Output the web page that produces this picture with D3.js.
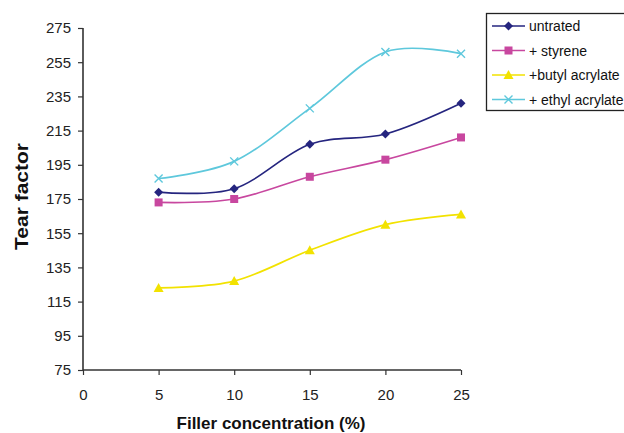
<!DOCTYPE html>
<html>
<head>
<meta charset="utf-8">
<script src="https://cdn.jsdelivr.net/npm/d3@7/dist/d3.min.js"></script>
<style>
  html, body { margin: 0; padding: 0; background: #fff; }
  svg { display: block; font-family: Arial, "Liberation Sans", sans-serif; }
</style>
</head>
<body>
<svg id="chart" width="624" height="433"></svg>
<script>
// Filler concentration (%) on x, tear factor on y
const concentrations = [5, 10, 15, 20, 25];
const untrated       = [179, 181, 207, 213, 231];
const styrene        = [173, 175, 188, 198, 211];
const butylAcrylate  = [123, 127, 145, 160, 166];
const ethylAcrylate  = [187, 197, 228, 261, 260];

const seriesNames  = ["untrated", "+ styrene", "+butyl acrylate", "+ ethyl acrylate"];
const seriesValues = [untrated, styrene, butylAcrylate, ethylAcrylate];
const seriesColors = ["#25257f", "#c8479f", "#f2e200", "#5ec8dc"];
const seriesSymbols = ["diamond", "square", "triangle", "cross"];

const xTicks = [0, 5, 10, 15, 20, 25];
const yTicks = [75, 95, 115, 135, 155, 175, 195, 215, 235, 255, 275];

const svg = d3.select("#chart");

const x = d3.scaleLinear().domain([0, 25]).range([83, 461]);
const y = d3.scaleLinear().domain([75, 275]).range([370, 28]);

// axes
const axisColor = "#333";
const xAxis = svg.append("g")
  .attr("transform", `translate(0,${y(75)})`)
  .call(d3.axisBottom(x).tickValues(xTicks).tickSize(5).tickPadding(14).tickFormat(d3.format("d")));
const yAxis = svg.append("g")
  .attr("transform", `translate(${x(0)},0)`)
  .call(d3.axisLeft(y).tickValues(yTicks).tickSize(5).tickPadding(7).tickFormat(d3.format("d")));

[xAxis, yAxis].forEach(g => {
  g.select(".domain").attr("stroke", axisColor).attr("stroke-width", 1.6);
  g.selectAll(".tick line").attr("stroke", axisColor).attr("stroke-width", 1.2);
  g.selectAll(".tick text").attr("fill", "#222").style("font-size", "15px")
    .style("font-family", "Arial, 'Liberation Sans', sans-serif");
});
// domain paths without outer tick caps
xAxis.select(".domain").attr("d", `M${x(0)},0H${x(25)}`);
yAxis.select(".domain").attr("d", `M0,${y(75)}V${y(275)}`);

// axis titles
svg.append("text")
  .attr("x", 271).attr("y", 429)
  .attr("text-anchor", "middle")
  .style("font-size", "17px").style("font-weight", "bold").attr("fill", "#111")
  .text("Filler concentration (%)");
svg.append("text")
  .attr("transform", `translate(28,196.5) rotate(-90)`)
  .attr("text-anchor", "middle")
  .attr("textLength", 107).attr("lengthAdjust", "spacingAndGlyphs")
  .style("font-size", "19px").style("font-weight", "bold").attr("fill", "#111")
  .text("Tear factor");

// markers
function drawMarker(g, type, color, cx, cy) {
  if (type === "diamond") {
    g.append("path").attr("d", `M${cx},${cy - 4.5}L${cx + 4.5},${cy}L${cx},${cy + 4.5}L${cx - 4.5},${cy}Z`)
      .attr("fill", color);
  } else if (type === "square") {
    g.append("rect").attr("x", cx - 4).attr("y", cy - 4).attr("width", 8).attr("height", 8)
      .attr("fill", color);
  } else if (type === "triangle") {
    g.append("path").attr("d", `M${cx},${cy - 5}L${cx + 5},${cy + 4}L${cx - 5},${cy + 4}Z`)
      .attr("fill", color);
  } else {
    g.append("path").attr("d", `M${cx - 4},${cy - 4}L${cx + 4},${cy + 4}M${cx - 4},${cy + 4}L${cx + 4},${cy - 4}`)
      .attr("stroke", color).attr("stroke-width", 1.4).attr("fill", "none");
  }
}

const line = d3.line()
  .x((d, i) => x(concentrations[i]))
  .y(d => y(d))
  .curve(d3.curveCatmullRom.alpha(0));

seriesValues.forEach((vals, s) => {
  const g = svg.append("g");
  g.append("path").datum(vals)
    .attr("d", line)
    .attr("fill", "none")
    .attr("stroke", seriesColors[s])
    .attr("stroke-width", 1.7);
  vals.forEach((v, i) => drawMarker(g, seriesSymbols[s], seriesColors[s], x(concentrations[i]), y(v)));
});

// legend
const legend = svg.append("g");
legend.append("rect")
  .attr("x", 486.5).attr("y", 13.5).attr("width", 145).attr("height", 97)
  .attr("fill", "#fff").attr("stroke", "#222").attr("stroke-width", 1.3);
seriesNames.forEach((name, s) => {
  const ly = 26 + s * 24.5;
  legend.append("line").attr("x1", 492).attr("x2", 525).attr("y1", ly).attr("y2", ly)
    .attr("stroke", seriesColors[s]).attr("stroke-width", 1.7);
  drawMarker(legend, seriesSymbols[s], seriesColors[s], 508.5, ly);
  legend.append("text").attr("x", 529).attr("y", ly + 5)
    .style("font-size", "14px").attr("fill", "#111")
    .text(name);
});
</script>
</body>
</html>
